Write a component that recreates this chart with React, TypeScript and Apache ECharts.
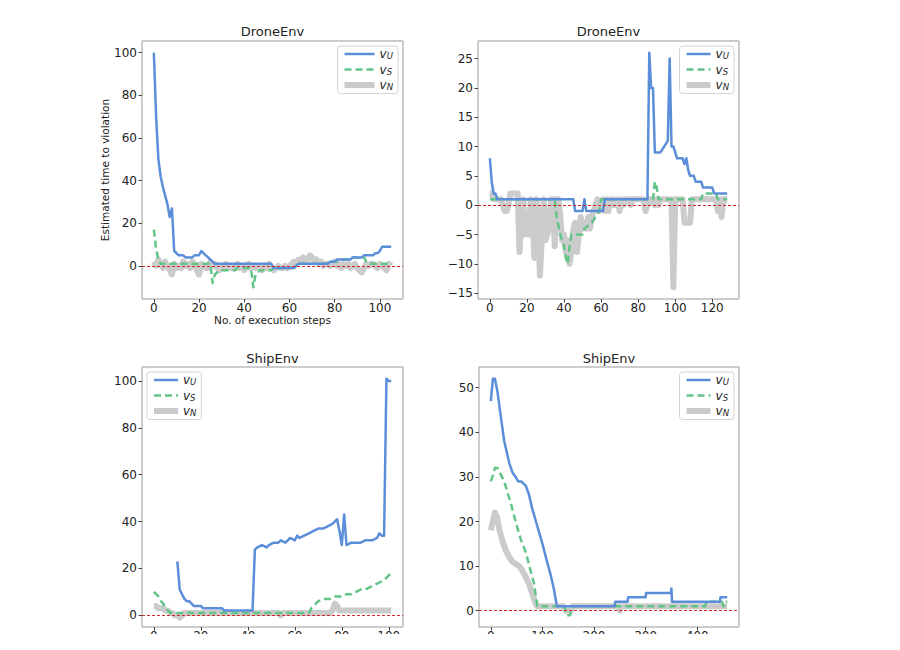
import React, { useEffect, useRef } from 'react';
import * as echarts from 'echarts';

// ---------- data ----------
const droneA_U: number[][] = [[0,100],[1,70],[2,50],[3,42],[4,37],[5,33],[6,29],[7,23],[8,27],[9,7],[10,6],[11,5],[13,5],[14,4],[17,4],[18,5],[20,5],[21,7],[22,6],[23,5],[24,4],[25,3],[26,2],[27,1],[52,1],[53,-1],[62,-1],[63,0],[64,1],[77,1],[78,2],[80,2],[81,3],[87,3],[88,4],[92,4],[93,5],[97,5],[98,6],[99,6],[100,7],[101,9],[105,9]];
const droneA_S: number[][] = [[0,17],[1,8],[2,3],[3,1],[25,1],[26,-8],[27,-4],[28,-3],[30,-2],[36,-2],[37,-1],[43,-1],[44,-10],[45,-4],[46,-3],[47,-2],[52,-2],[53,-1],[62,-1],[64,1],[77,1],[78,2],[81,2],[82,3],[87,3],[88,4],[93,4],[94,2],[95,1],[105,1]];
const droneA_N: number[] = [2,0,3,1,-1,2,0,-2,-4,1,-1,0,-1,2,0,1,-1,2,1,-2,-4,1,0,-1,-1,2,0,1,-1,-2,0,-1,1,0,-1,-1,0,1,-1,0,-2,0,1,-1,0,-1,0,-1,-2,0,-1,1,-1,-2,-1,0,-1,-1,0,-1,0,1,2,1,3,2,4,2,3,5,4,2,3,1,2,0,1,1,0,1,2,0,1,-1,1,0,1,-1,0,1,-1,-2,-3,-1,1,0,1,1,0,-1,1,0,-1,-2,1,0];

const droneB_U: number[][] = [[0,8],[1,4],[2,2],[3,2],[4,1],[45,1],[46,-1],[50,-1],[51,1],[52,-1],[61,-1],[62,1],[85,1],[86,26],[87,20],[88,20],[89,9],[92,9],[94,10],[96,11],[97,25],[98,10],[99,10],[100,9],[101,8],[104,8],[105,7],[106,8],[107,6],[108,5],[110,5],[111,4],[114,4],[115,3],[120,3],[121,2],[128,2]];
const droneB_S: number[][] = [[0,1],[35,1],[36,-2],[38,-5],[40,-7],[41,-9],[42,-10],[43,-7],[44,-5],[50,-5],[51,-4],[55,-3],[57,-2],[59,-1],[60,1],[88,1],[89,4],[90,3],[91,1],[114,1],[115,2],[122,2],[123,1],[128,1]];
const droneB_N: number[] = [2,2,1,1,1,1,1,0,-1,-1,0,2,2,2,2,2,-8,-2,1,-5,-3,-5,1,-2,-9,1,-3,-12,-6,1,-6,-5,-3,1,1,-7,1,1,-2,-6,-5,-8,-6,-10,-8,-4,-3,-8,-5,-2,-4,-3,-4,-2,-4,-2,-1,0,1,-1,0,1,-1,1,-1,1,1,0,1,1,-1,1,0,1,1,1,0,1,1,1,1,1,1,1,-1,0,1,1,1,0,1,0,1,1,1,1,1,1,1,-14,1,1,1,1,1,-3,-3,-3,-3,1,1,1,1,1,1,1,1,1,1,1,1,1,1,-1,1,-2,1,1,1];

const shipA_U: number[][] = [[10,23],[11,11],[12,9],[13,7],[14,6],[15,6],[16,5],[17,4],[20,4],[21,3],[29,3],[30,2],[42,2],[43,28],[44,29],[46,30],[48,29],[49,30],[51,31],[53,31],[54,32],[56,31],[57,32],[58,33],[60,32],[61,34],[62,33],[64,34],[66,35],[68,36],[70,37],[72,37],[74,38],[76,39],[77,40],[78,41],[79,36],[80,30],[81,43],[82,30],[84,31],[88,31],[90,32],[93,32],[95,33],[96,35],[97,34],[98,34],[99,101],[100,100],[101,100]];
const shipA_S: number[][] = [[0,10],[1,9],[2,8],[3,6],[4,5],[5,3],[6,2],[7,1],[66,1],[67,3],[68,4],[70,6],[72,7],[75,7],[77,8],[80,8],[82,9],[84,9],[86,10],[88,11],[90,11],[92,12],[94,13],[96,14],[98,15],[100,17],[101,18]];
const shipA_N: number[][] = [[0,4],[1,4],[2,3],[4,3],[5,2],[6,2],[7,1],[8,1],[9,0],[10,0],[11,-1],[12,0],[13,1],[53,1],[54,0],[55,1],[75,1],[76,2],[77,5],[78,4],[79,2],[101,2]];

const shipB_U: number[][] = [[0,47],[4,52],[8,52],[13,49],[20,43],[26,38],[36,33],[42,31],[48,30],[53,29],[59,29],[68,28],[74,26],[80,23],[90,19],[100,15],[109,11],[116,8],[122,5],[128,1],[240,1],[241,2],[265,2],[266,3],[300,3],[301,4],[349,4],[350,5],[351,2],[444,2],[445,3],[458,3]];
const shipB_S: number[][] = [[0,29],[3,30],[8,32],[13,32],[26,29],[39,24],[48,20],[58,16],[68,13],[77,9],[84,6],[90,1],[143,1],[147,-1],[154,-1],[156,1],[415,1],[418,2],[448,2],[451,1],[454,2],[458,2]];
const shipB_N: number[][] = [[0,18],[4,20],[8,22],[12,21],[17,18],[23,15.5],[29,13.5],[36,12],[42,11],[48,10.5],[55,10],[61,9],[68,7.5],[74,6],[80,4],[87,1.5],[90,1],[140,1],[145,0],[155,0],[158,1],[248,1],[250,0],[252,1],[458,1]];

const xTicksDroneA = [0, 20, 40, 60, 80, 100];
const xTicksDroneB = [0, 20, 40, 60, 80, 100, 120];
const xTicksShipA = [0, 20, 40, 60, 80, 100];
const xTicksShipB = [0, 100, 200, 300, 400];
const yTicksDroneA = [0, 20, 40, 60, 80, 100];
const yTicksDroneB = [-15, -10, -5, 0, 5, 10, 15, 20, 25];
const yTicksShipA = [0, 20, 40, 60, 80, 100];
const yTicksShipB = [0, 10, 20, 30, 40, 50];

const seriesNames = ['vU', 'vS', 'vN'];
const subscripts: Record<string, string> = { vU: 'U', vS: 'S', vN: 'N' };

// ---------- styling ----------
const BLUE = '#5b8ed9';
const GREEN = '#63c488';
const GRAY = '#cbcbcb';
const RED = '#d62728';
const FONT = 'DejaVu Sans';
const LINE_W: Record<string, number> = { vU: 2.5, vS: 2.5, vN: 6 };
const LINE_C: Record<string, string> = { vU: BLUE, vS: GREEN, vN: GRAY };

const toPairs = (ys: number[]) => ys.map((y, i) => [i, y]);
const fmt = (v: number) => (v < 0 ? '\u2212' + Math.abs(v) : String(v));

const panels = [
  { title: 'DroneEnv', titleTop: 25, grid: { left: 142, top: 41, width: 261, height: 258 }, x: [-5.25, 110.25], xt: xTicksDroneA, y: [-15.5, 105.5], yt: yTicksDroneA,
    U: droneA_U, S: droneA_S, N: toPairs(droneA_N), legend: { right: 502, top: 46 }, iw: 30 },
  { title: 'DroneEnv', titleTop: 25, grid: { left: 478, top: 41, width: 261, height: 258 }, x: [-6.4, 134.4], xt: xTicksDroneB, y: [-16, 28], yt: yTicksDroneB,
    U: droneB_U, S: droneB_S, N: toPairs(droneB_N), legend: { right: 166, top: 46 }, iw: 24 },
  { title: 'ShipEnv', titleTop: 352, grid: { left: 142, top: 367, width: 261, height: 260 }, x: [-5.05, 106.05], xt: xTicksShipA, y: [-5, 106], yt: yTicksShipA,
    U: shipA_U, S: shipA_S, N: shipA_N, legend: { left: 147, top: 372 }, iw: 24 },
  { title: 'ShipEnv', titleTop: 352, grid: { left: 479, top: 367, width: 260, height: 260 }, x: [-22.9, 480.9], xt: xTicksShipB, y: [-3.65, 54.65], yt: yTicksShipB,
    U: shipB_U, S: shipB_S, N: shipB_N, legend: { right: 166, top: 372 }, iw: 24 },
];

export default function App() {
  const ref = useRef<HTMLDivElement>(null);
  useEffect(() => {
    if (!ref.current) return;
    const chart = echarts.init(ref.current, undefined, { renderer: 'svg' });
    const option: any = {
      animation: false,
      backgroundColor: '#ffffff',
      textStyle: { fontFamily: FONT },
      title: panels.map((p) => ({
        text: p.title,
        left: p.grid.left + p.grid.width / 2,
        top: p.titleTop,
        textAlign: 'center',
        padding: 0,
        textStyle: { fontSize: 13, fontWeight: 'normal', color: '#222', fontFamily: FONT },
      })),
      grid: panels.map((p) => ({ ...p.grid, show: true, borderColor: '#9a9a9a', borderWidth: 1, backgroundColor: 'transparent' })),
      xAxis: panels.map((p, i) => ({
        type: 'value', gridIndex: i, min: p.x[0], max: p.x[1], position: 'bottom',
        splitLine: { show: false },
        axisLine: { show: false, onZero: false },
        axisTick: { show: true, inside: false, length: 3.5, lineStyle: { color: '#444' }, customValues: p.xt },
        axisLabel: { customValues: p.xt, margin: 3, fontSize: 12, color: '#222', fontFamily: FONT, formatter: fmt },
        name: i === 0 ? 'No. of execution steps' : '',
        nameLocation: 'middle', nameGap: 13,
        nameTextStyle: { fontSize: 10.5, color: '#222', fontFamily: FONT, verticalAlign: 'top' },
      })),
      yAxis: panels.map((p, i) => ({
        type: 'value', gridIndex: i, min: p.y[0], max: p.y[1], position: 'left',
        splitLine: { show: false },
        axisLine: { show: false, onZero: false },
        axisTick: { show: true, inside: false, length: 3.5, lineStyle: { color: '#444' }, customValues: p.yt },
        axisLabel: { customValues: p.yt, margin: 5, fontSize: 12, color: '#222', fontFamily: FONT, formatter: fmt },
        name: i === 0 ? 'Estimated time to violation' : '',
        nameLocation: 'middle', nameGap: 23,
        nameTextStyle: { fontSize: 10.5, color: '#222', fontFamily: FONT },
      })),
      legend: panels.map((p) => ({
        ...p.legend,
        orient: 'vertical',
        data: seriesNames.map((n) => ({ name: n, lineStyle: { width: LINE_W[n], color: LINE_C[n] } })),
        selectedMode: false,
        itemWidth: p.iw, itemHeight: 12, itemGap: 3,
        padding: [2, 5, 2, 4],
        borderColor: '#d4d4d4', borderWidth: 1, borderRadius: 3,
        backgroundColor: 'rgba(255,255,255,0.85)',
        itemStyle: { opacity: 0 },
        formatter: (name: string) => `{v|v}{s|${subscripts[name]}}`,
        textStyle: {
          fontFamily: FONT, color: '#222',
          rich: {
            v: { fontSize: 12, fontStyle: 'italic', fontFamily: FONT, color: '#222', lineHeight: 13 },
            s: { fontSize: 8.5, fontStyle: 'italic', fontFamily: FONT, color: '#222', lineHeight: 8, verticalAlign: 'bottom' },
          },
        },
      })),
      graphic: [
        { type: 'rect', z: 1000, silent: true, shape: { x: 0, y: 634, width: 900, height: 16 }, style: { fill: '#ffffff' } },
      ],
      series: panels.flatMap((p, i) => [
        { type: 'line', name: 'vN', xAxisIndex: i, yAxisIndex: i, data: p.N, symbol: 'none', showSymbol: false, z: 1, silent: true,
          lineStyle: { color: GRAY, width: LINE_W.vN, join: 'round' }, itemStyle: { color: GRAY } },
        { type: 'line', name: 'vS', xAxisIndex: i, yAxisIndex: i, data: p.S, symbol: 'none', showSymbol: false, z: 2, silent: true,
          lineStyle: { color: GREEN, width: LINE_W.vS, type: [7, 4], join: 'round' }, itemStyle: { color: GREEN } },
        { type: 'line', name: 'vU', xAxisIndex: i, yAxisIndex: i, data: p.U, symbol: 'none', showSymbol: false, z: 3, silent: true,
          lineStyle: { color: BLUE, width: LINE_W.vU, join: 'round' }, itemStyle: { color: BLUE },
          markLine: { silent: true, symbol: 'none', label: { show: false }, lineStyle: { color: RED, width: 1, type: [3, 2] }, data: [{ yAxis: 0 }] } },
      ]),
    };
    chart.setOption(option);
    return () => chart.dispose();
  }, []);
  return <div ref={ref} style={{ position: 'absolute', left: 0, top: 0, width: 900, height: 650 }} />;
}
